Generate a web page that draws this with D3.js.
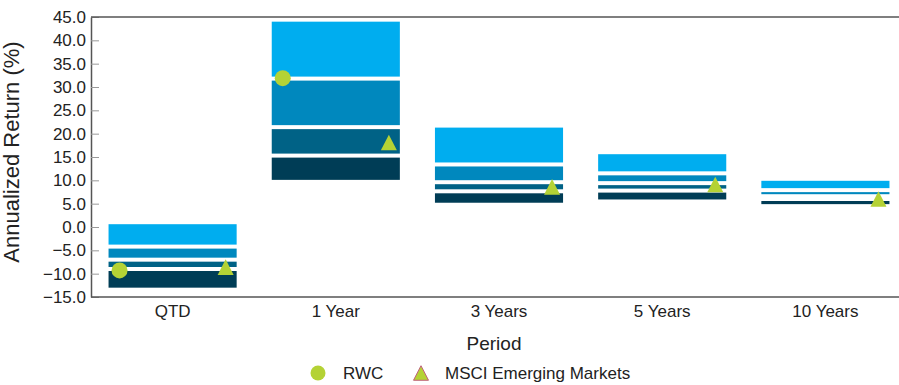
<!DOCTYPE html>
<html>
<head>
<meta charset="utf-8">
<style>
  body { margin: 0; background: #fff; }
  svg text { font-family: "Liberation Sans", Arial, sans-serif; fill: #222; }
</style>
</head>
<body>
<script src="https://cdn.jsdelivr.net/npm/d3@7"></script>
<script>
// *** DATA ***
var periods = ["QTD", "1 Year", "3 Years", "5 Years", "10 Years"];
// percentile breakpoints per period: 5th, 25th, median, 75th, 95th (top to bottom)
var p05 = [0.6, 44.0, 21.3, 15.6, 9.9];
var p25 = [-4.2, 31.8, 13.4, 11.5, 7.9];
var p50 = [-7.0, 21.4, 9.6, 9.4, 6.6];
var p75 = [-9.0, 15.3, 7.65, 7.8, 6.0];
var p95 = [-13.0, 10.1, 5.2, 5.9, 4.9];
var rwc = [-9.3, 31.9, null, null, null];
var msci = [-8.6, 18.1, 8.6, 9.1, 6.0];
var yTicks = [-15, -10, -5, 0, 5, 10, 15, 20, 25, 30, 35, 40, 45];
var seriesNames = ["RWC", "MSCI Emerging Markets"];

var quartileColors = ["#00adef", "#0088be", "#006286", "#003d56"];
var green = "#b4d235";

// *** LAYOUT ***
var W = 899, H = 385;
var pLeft = 91, pTop = 17, pBottom = 297, pRight = 907;

var svg = d3.select("body").append("svg")
  .attr("width", W).attr("height", H);

var x = d3.scaleBand().domain(periods).range([pLeft, pRight]).padding(0);
var y = d3.scaleLinear().domain([-15, 45]).range([pBottom, pTop]);

var bw = x.bandwidth();
var barW = bw * 0.785;
var barOff = (bw - barW) / 2;
var gap = 2;

// *** BARS ***
var rows = periods.map(function(p, i) {
  return { period: p, b: [p05[i], p25[i], p50[i], p75[i], p95[i]] };
});

var segs = [];
rows.forEach(function(r) {
  for (var k = 0; k < 4; k++) {
    var y0 = y(r.b[k]) + (k > 0 ? gap : 0);
    var y1 = y(r.b[k + 1]) - (k < 3 ? gap : 0);
    if (y1 - y0 > 0.3) segs.push({ period: r.period, k: k, y0: y0, y1: y1 });
  }
});

svg.append("g").selectAll("rect").data(segs).enter().append("rect")
  .attr("x", function(d) { return x(d.period) + barOff; })
  .attr("y", function(d) { return d.y0; })
  .attr("width", barW)
  .attr("height", function(d) { return d.y1 - d.y0; })
  .style("fill", function(d) { return quartileColors[d.k]; });

// *** AXES ***
var yAxis = d3.axisLeft(y).tickValues(yTicks).tickFormat(d3.format(".1f"))
  .tickSizeInner(-8).tickSizeOuter(0).tickPadding(5);
var gy = svg.append("g").attr("transform", "translate(" + pLeft + ",0)").call(yAxis);
gy.select(".domain").attr("stroke", "#555").attr("stroke-width", 1.5);
gy.selectAll(".tick line").attr("stroke", "#999");
gy.selectAll("text").style("font-size", "17px").style("font-family", "Liberation Sans, Arial, sans-serif").attr("fill", "#222");

svg.append("line").attr("x1", pLeft).attr("x2", W).attr("y1", pTop).attr("y2", pTop)
  .attr("stroke", "#555").attr("stroke-width", 1.5);
svg.append("line").attr("x1", pLeft).attr("x2", W).attr("y1", pBottom).attr("y2", pBottom)
  .attr("stroke", "#555").attr("stroke-width", 1.5);

var xAxis = d3.axisBottom(x).tickSize(0).tickPadding(8);
var gx = svg.append("g").attr("transform", "translate(0," + pBottom + ")").call(xAxis);
gx.select(".domain").remove();
gx.selectAll("text").style("font-size", "17px").style("font-family", "Liberation Sans, Arial, sans-serif").attr("fill", "#222");

svg.append("text").attr("x", (pLeft + pRight) / 2 - 5).attr("y", 350)
  .attr("text-anchor", "middle").style("font-size", "19px").text("Period");

svg.append("text")
  .attr("transform", "translate(19,152) rotate(-90)")
  .attr("text-anchor", "middle").style("font-size", "22px").text("Annualized Return (%)");

// *** MARKERS ***
function triPath(cx, cy, s) {
  var h = s * 0.97;
  return "M" + cx + "," + (cy - h / 2) + "L" + (cx + s / 2) + "," + (cy + h / 2) + "L" + (cx - s / 2) + "," + (cy + h / 2) + "Z";
}

var rwcPts = periods.map(function(p, i) { return { period: p, v: rwc[i] }; })
  .filter(function(d) { return d.v !== null; });
var msciPts = periods.map(function(p, i) { return { period: p, v: msci[i] }; });

svg.append("g").selectAll("circle").data(rwcPts).enter().append("circle")
  .attr("cx", function(d) { return x(d.period) + barOff + 11; })
  .attr("cy", function(d) { return y(d.v); })
  .attr("r", 8)
  .style("fill", green);

svg.append("g").selectAll("path").data(msciPts).enter().append("path")
  .attr("d", function(d) { return triPath(x(d.period) + barOff + barW - 11, y(d.v), 16); })
  .style("fill", green);

// *** LEGEND ***
var lg = svg.append("g");
lg.append("circle").attr("cx", 318).attr("cy", 373).attr("r", 7.5).style("fill", green);
lg.append("text").attr("x", 343).attr("y", 379).style("font-size", "17px").text(seriesNames[0]);
lg.append("path").attr("d", triPath(421, 373, 15)).style("fill", green)
  .style("stroke", "#c0607a").style("stroke-width", 1);
lg.append("text").attr("x", 445).attr("y", 379).style("font-size", "17px").text(seriesNames[1]);
</script>
</body>
</html>
